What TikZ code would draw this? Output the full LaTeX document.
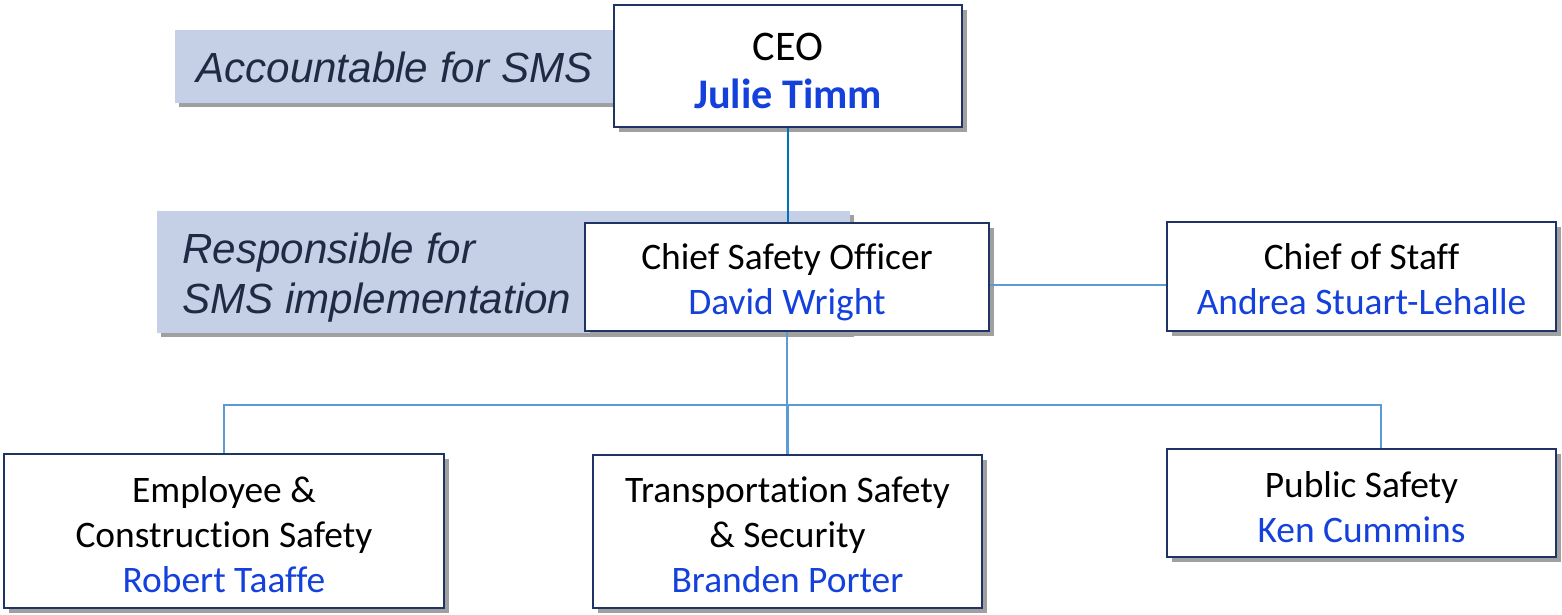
\documentclass[tikz,border=0pt]{standalone}
\usepackage{fontspec}
\setmainfont{Carlito}[Ligatures=NoCommon]
\newfontfamily\labelfont{Liberation Sans}
\usetikzlibrary{shadows}
\definecolor{boxborder}{HTML}{1F3464}
\definecolor{namecol}{HTML}{1440DC}
\definecolor{bandcol}{HTML}{C5D0E7}
\definecolor{labelcol}{HTML}{1F2A44}
\definecolor{linedark}{HTML}{0070C0}
\definecolor{linelight}{HTML}{5B9BD5}
\definecolor{shadowcol}{HTML}{A0A0A0}
\tikzset{
  orgbox/.style={draw=boxborder, line width=1.1pt, fill=white, inner sep=0pt,
    align=center, font=\fontsize{21.3}{25.6}\selectfont,
    drop shadow={shadow xshift=2.8pt, shadow yshift=-2.8pt, fill=shadowcol, opacity=1}},
  band/.style={fill=bandcol, inner sep=0pt,
    drop shadow={shadow xshift=2.3pt, shadow yshift=-2.3pt, fill=shadowcol, opacity=1}},
  bandtext/.style={inner sep=0pt, anchor=west, align=left, text=labelcol,
    font=\labelfont\itshape\fontsize{24}{28.4}\selectfont},
  link/.style={draw=linelight, line width=1.3pt},
  linkdark/.style={draw=linedark, line width=1.3pt},
}
\newcommand{\nm}[1]{\textcolor{namecol}{#1}}
\newcommand{\up}[1]{\rule{0pt}{#1}}
\begin{document}
\begin{tikzpicture}[x=0.02cm, y=-0.02cm]
\useasboundingbox (0,0) rectangle (1562,615);
% bands
\path[band] (175,30) rectangle (614,103);
\path[band] (157,211) rectangle (850,333);
\node[bandtext] (lab1) at (196,67) {Accountable for SMS};
\node[bandtext] (lab2) at (182,278) {Responsible for\\SMS implementation};
% boxes
\node[orgbox, minimum width=348*0.02cm, minimum height=122*0.02cm,
  font=\fontsize{24}{27.3}\selectfont] (ceo) at (788,66)
  {\up{21.5pt}CEO\\\nm{\bfseries Julie Timm}};
\node[orgbox, minimum width=404*0.02cm, minimum height=108*0.02cm] (cso) at (787,277)
  {\up{21pt}Chief Safety Officer\\\nm{David Wright}};
\node[orgbox, minimum width=389*0.02cm, minimum height=109*0.02cm] (cos) at (1361.5,276.5)
  {\up{18pt}Chief of Staff\\\nm{Andrea Stuart-Lehalle}};
\node[orgbox, minimum width=440*0.02cm, minimum height=154*0.02cm] (emp) at (224,531)
  {\up{19pt}Employee \&\\Construction Safety\\\nm{Robert Taaffe}};
\node[orgbox, minimum width=389*0.02cm, minimum height=153*0.02cm] (tss) at (787.5,531.5)
  {\up{18pt}Transportation Safety\\\& Security\\\nm{Branden Porter}};
\node[orgbox, minimum width=389*0.02cm, minimum height=108*0.02cm] (pub) at (1361.5,503)
  {\up{19pt}Public Safety\\\nm{Ken Cummins}};
% connectors
\coordinate (bus) at (788,405);
\coordinate (cosy) at (1080,285);
\coordinate (pubx) at (1381,430);
\draw[linkdark] (ceo.south) -- (ceo.south |- cso.north);
\draw[link] (cso.east |- cosy) -- (cos.west |- cosy);
\draw[link] (cso.south) -- (cso.south |- bus);
\draw[link] (emp.north) -- (emp.north |- bus) -- (pubx |- bus) -- (pubx |- pub.north);
\draw[link] (tss.north |- bus) -- (tss.north);
\end{tikzpicture}
\end{document}
